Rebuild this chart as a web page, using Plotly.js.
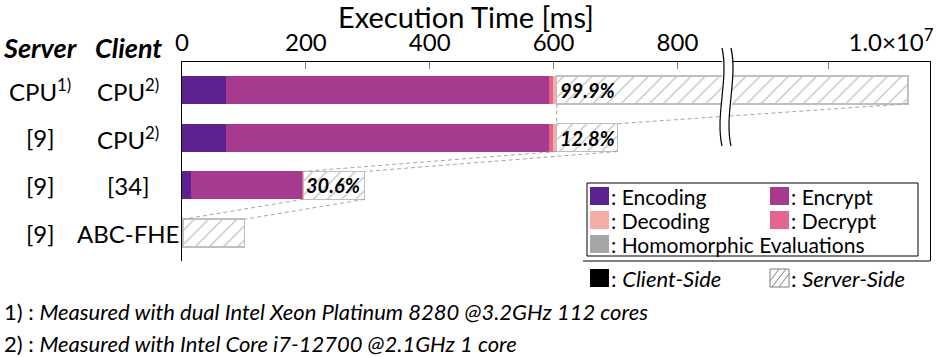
<!DOCTYPE html>
<html>
<head>
<meta charset="utf-8">
<script src="https://cdn.plot.ly/plotly-3.0.1.min.js"></script>
<style>
  html, body { margin: 0; padding: 0; background: #fff; }
  #chart { width: 941px; height: 357px; }
</style>
</head>
<body>
<div id="chart"></div>
<script>
// rows, top to bottom
const rows = ['r1', 'r2', 'r3', 'r4'];
const serverLabels = ['CPU<sup>1)</sup>', '[9]', '[9]', '[9]'];
const clientLabels = ['CPU<sup>2)</sup>', 'CPU<sup>2)</sup>', '[34]', 'ABC-FHE'];

// execution time per stage [ms]
const encoding    = [71, 71, 14, 2];
const encrypt     = [522, 522, 179, 0];
const decrypt     = [6, 6, 2, 0];
const decoding    = [6, 6, 1, 0];
const homomorphic = [10800000, 98, 99, 99];   // server-side
const serverShare = ['99.9%', '12.8%', '30.6%', ''];

// axis ticks
const tickVals = [0, 200, 400, 600, 800];
const tickVals2 = [10000000];
const tickText2 = ['1.0×10<sup>7</sup>'];

const FONT = 'Lato, "Open Sans", sans-serif';
const colors = {
  encoding: '#5d2190',
  encrypt: '#a63a8e',
  decrypt: '#e5658e',
  decoding: '#f4aea6',
  homo: '#a6a6a6',
  hatch: '#bfbfbf'
};

// plot box in pixels
const L = 182, R = 930, T = 62, B = 261;
const px2x = px => (px - L) / (R - L);
const px2y = py => (B - py) / (B - T);

const xa1 = { domain: [0, px2x(722)], range: [0, 872] };
const xa2 = { domain: [px2x(732), 1], range: [9040000, 11020000] };
const barW = 0.583;

function toPaper(v) {
  const ax = v > xa1.range[1] ? xa2 : xa1;
  return ax.domain[0] + (v - ax.range[0]) / (ax.range[1] - ax.range[0]) * (ax.domain[1] - ax.domain[0]);
}

const clientTotal = rows.map((r, i) => encoding[i] + encrypt[i] + decrypt[i] + decoding[i]);

function stage(name, vals, color, xa, ya, hatched) {
  const t = {
    type: 'bar', orientation: 'h', name: name,
    y: rows, x: vals, xaxis: xa, yaxis: ya,
    width: barW, showlegend: false, hoverinfo: 'x+name',
    marker: { color: color, line: { width: 0 } }
  };
  if (hatched) {
    t.marker = {
      color: '#fff',
      line: { color: colors.hatch, width: 1.5 },
      pattern: { shape: '/', fgcolor: colors.hatch, bgcolor: '#fff', size: 10, solidity: 0.12 }
    };
  }
  return t;
}

const traces = [];
[['x', 'y'], ['x2', 'y2']].forEach(([xa, ya]) => {
  traces.push(stage('Encoding', encoding, colors.encoding, xa, ya));
  traces.push(stage('Encrypt', encrypt, colors.encrypt, xa, ya));
  traces.push(stage('Decrypt', decrypt, colors.decrypt, xa, ya));
  traces.push(stage('Decoding', decoding, colors.decoding, xa, ya));
  traces.push(stage('Homomorphic Evaluations', homomorphic, colors.homo, xa, ya, true));
});

const shapes = [];
const annotations = [];

// dashed lines linking server-side segments row to row
for (let i = 0; i < rows.length - 1; i++) {
  const s0 = clientTotal[i], e0 = clientTotal[i] + homomorphic[i];
  const s1 = clientTotal[i + 1], e1 = clientTotal[i + 1] + homomorphic[i + 1];
  [[s0, s1], [e0, e1]].forEach(([a, b]) => {
    shapes.push({
      type: 'line', xref: 'paper', yref: 'y', layer: 'above',
      x0: toPaper(a), y0: i + barW / 2, x1: toPaper(b), y1: i + 1 - barW / 2,
      line: { color: '#a6a6a6', width: 1, dash: '4px,3px' }
    });
  });
}

// axis break
function wave(x0, reverse) {
  const p = [[x0, 48], [x0 + 7, 78], [x0 - 7, 116], [x0, 146]];
  const q = reverse ? p.slice().reverse() : p;
  const c = q.map(([x, y]) => px2x(x).toFixed(5) + ',' + px2y(y).toFixed(5));
  return { start: c[0], curve: 'C' + c[1] + ' ' + c[2] + ' ' + c[3] };
}
const wl = wave(722, false), wr = wave(731, true);
shapes.push({
  type: 'path', xref: 'paper', yref: 'paper', layer: 'above',
  path: 'M' + wl.start + ' ' + wl.curve + ' L' + wr.start + ' ' + wr.curve + ' Z',
  fillcolor: '#fff', line: { width: 0 }
});
[722, 731].forEach(x => {
  const w = wave(x, false);
  shapes.push({
    type: 'path', xref: 'paper', yref: 'paper', layer: 'above',
    path: 'M' + w.start + ' ' + w.curve, line: { color: '#000', width: 1.2 }
  });
});

// partial bottom border
shapes.push({
  type: 'line', xref: 'paper', yref: 'paper', x0: px2x(583), x1: 1, y0: 0, y1: 0,
  line: { color: '#000', width: 1.2 }
});

// legend box
shapes.push({
  type: 'rect', xref: 'paper', yref: 'paper', layer: 'above',
  x0: px2x(587), x1: px2x(918), y0: px2y(256), y1: px2y(183),
  fillcolor: '#fff', line: { color: '#000', width: 1 }
});

const legendItems = [
  ['Encoding', colors.encoding, 590, 196],
  ['Encrypt', colors.encrypt, 770, 196],
  ['Decoding', colors.decoding, 590, 220],
  ['Decrypt', colors.decrypt, 770, 220],
  ['Homomorphic Evaluations', colors.homo, 590, 244]
];
function swatch(x, y, fill, line) {
  shapes.push({
    type: 'rect', xref: 'paper', yref: 'paper', layer: 'above',
    x0: px2x(x), x1: px2x(x + 19), y0: px2y(y + 9), y1: px2y(y - 9),
    fillcolor: fill, line: line || { width: 0 }
  });
}
function label(text, x, y, size, extra) {
  annotations.push(Object.assign({
    text: text, xref: 'paper', yref: 'paper', x: px2x(x), y: px2y(y),
    xanchor: 'left', yanchor: 'middle', showarrow: false,
    font: { family: FONT, size: size, color: '#000' }
  }, extra || {}));
}
legendItems.forEach(([name, color, x, y]) => {
  swatch(x, y, color);
  label(': ' + name, x + 19, y, 21);
});

// client / server key
swatch(590, 278, '#000');
label(': <i>Client-Side</i>', 609, 278, 22);
swatch(770, 278, '#fff', { color: '#7f7f7f', width: 1 });
[[770, 281, 779, 269], [772, 287, 786, 269], [779, 287, 789, 274]].forEach(([x0, y0, x1, y1]) => {
  shapes.push({
    type: 'line', xref: 'paper', yref: 'paper', layer: 'above',
    x0: px2x(x0), y0: px2y(y0), x1: px2x(x1), y1: px2y(y1),
    line: { color: '#7f7f7f', width: 1 }
  });
});
label(': <i>Server-Side</i>', 789, 278, 22);

// footnotes
label('1) : <i>Measured with dual Intel Xeon Platinum 8280 @3.2GHz 112 cores</i>', 2, 311, 22);
label('2) : <i>Measured with Intel Core i7-12700 @2.1GHz 1 core</i>', 2, 343, 22);

// column headers and row labels
annotations.push({
  text: '<b><i>Server</i></b>', xref: 'paper', yref: 'paper', x: px2x(40), y: px2y(48),
  xanchor: 'center', yanchor: 'middle',
  showarrow: false, font: { family: FONT, size: 27, color: '#000' }
});
annotations.push({
  text: '<b><i>Client</i></b>', xref: 'paper', yref: 'paper', x: px2x(128), y: px2y(48),
  xanchor: 'center', yanchor: 'middle',
  showarrow: false, font: { family: FONT, size: 27, color: '#000' }
});
rows.forEach((r, i) => {
  annotations.push({
    text: serverLabels[i], xref: 'paper', yref: 'y', x: px2x(40), y: i,
    xanchor: 'center', yanchor: 'middle',
    showarrow: false, font: { family: FONT, size: 24, color: '#000' }
  });
  annotations.push({
    text: clientLabels[i], xref: 'paper', yref: 'y', x: px2x(128), y: i,
    xanchor: 'center', yanchor: 'middle',
    showarrow: false, font: { family: FONT, size: 24, color: '#000' }
  });
  if (serverShare[i]) {
    annotations.push({
      text: '<b><i>' + serverShare[i] + '</i></b>', xref: 'x', yref: 'y', x: clientTotal[i], y: i,
      xanchor: 'left', yanchor: 'middle', xshift: 1, showarrow: false,
      font: { family: FONT, size: 20, color: '#000' }
    });
  }
});

const axisCommon = {
  side: 'top', showline: true, linecolor: '#000', linewidth: 1.2,
  ticks: 'inside', ticklen: 7, tickcolor: '#7f7f7f', tickwidth: 1,
  showgrid: false, zeroline: false, fixedrange: true,
  tickfont: { family: FONT, size: 24, color: '#000' }
};

const layout = {
  width: 941, height: 357,
  margin: { l: L, r: 941 - R, t: T, b: 357 - B },
  paper_bgcolor: '#fff', plot_bgcolor: '#fff',
  barmode: 'stack', bargap: 0,
  showlegend: false,
  font: { family: FONT, color: '#000' },
  title: {
    text: 'Execution Time [ms]', xref: 'container', x: 466 / 941,
    yref: 'container', y: 1 - 18 / 357, xanchor: 'center', yanchor: 'middle',
    font: { family: FONT, size: 29, color: '#000' }
  },
  xaxis: Object.assign({}, axisCommon, {
    domain: xa1.domain, range: xa1.range, anchor: 'y',
    tickmode: 'array', tickvals: tickVals
  }),
  xaxis2: Object.assign({}, axisCommon, {
    domain: xa2.domain, range: xa2.range, anchor: 'y2',
    tickmode: 'array', tickvals: tickVals2, ticktext: tickText2, ticklabelshift: 63
  }),
  yaxis: {
    type: 'category', categoryarray: rows, range: [rows.length - 1 + 0.5833, -0.5833],
    showline: true, linecolor: '#000', linewidth: 1.2, showticklabels: false,
    ticks: '', showgrid: false, zeroline: false, fixedrange: true, anchor: 'x'
  },
  yaxis2: {
    type: 'category', categoryarray: rows, range: [rows.length - 1 + 0.5833, -0.5833],
    matches: 'y', side: 'right', anchor: 'x2',
    showline: true, linecolor: '#000', linewidth: 1.2, showticklabels: false,
    ticks: '', showgrid: false, zeroline: false, fixedrange: true
  },
  shapes: shapes,
  annotations: annotations
};

Plotly.newPlot('chart', traces, layout, { displayModeBar: false, staticPlot: true });
</script>
</body>
</html>
